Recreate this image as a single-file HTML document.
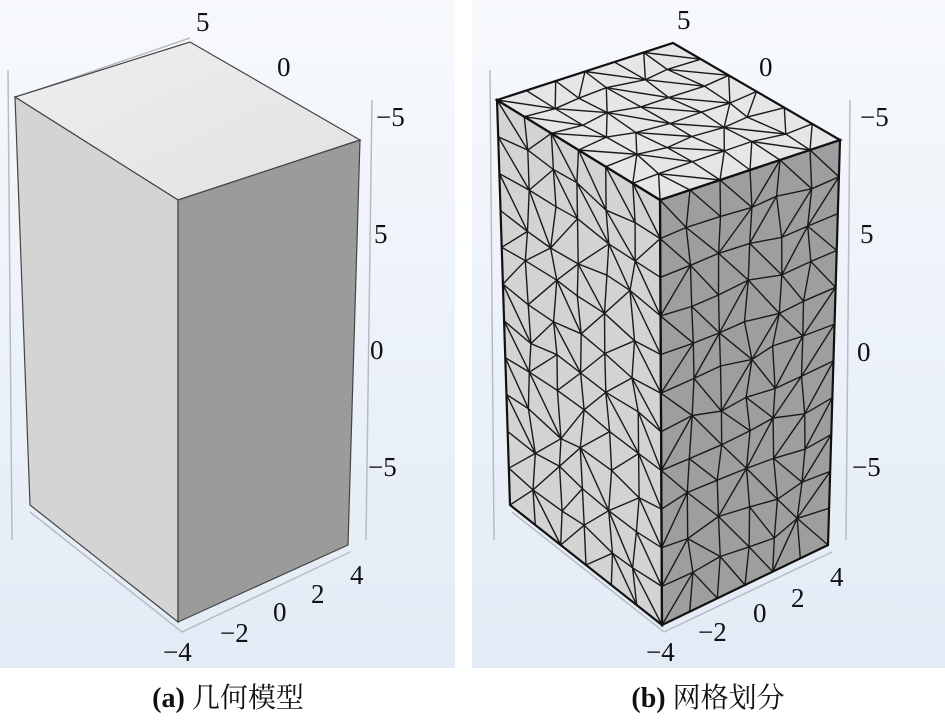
<!DOCTYPE html>
<html><head><meta charset="utf-8"><style>
html,body{margin:0;padding:0;background:#fff;width:945px;height:724px;overflow:hidden}
svg{display:block}
text{font-family:"Liberation Serif","Noto Serif CJK SC",serif;fill:#111}
</style></head><body>
<svg id="s" width="945" height="724" viewBox="0 0 945 724" xmlns="http://www.w3.org/2000/svg">
<defs>
<linearGradient id="bg" x1="0" y1="0" x2="0" y2="1">
<stop offset="0" stop-color="#f7f9fc"/><stop offset="1" stop-color="#e2ebf6"/></linearGradient>
<linearGradient id="tp" x1="0" y1="0" x2="1" y2="1">
<stop offset="0" stop-color="#eeeeee"/><stop offset="1" stop-color="#e2e2e2"/></linearGradient>
</defs>
<rect x="0" y="0" width="455" height="668" fill="url(#bg)"/>
<rect x="472" y="0" width="473" height="668" fill="url(#bg)"/>
<g stroke="#b8bcc2" stroke-width="1.5" fill="none">
<polyline points="8,70 12,540"/>
<polyline points="372,100 366,540"/>
<polyline points="30,512 182,632 350,552"/>
<polyline points="20,96 190,38"/>
<polyline points="490,70 494,540"/>
<polyline points="850,100 846,540"/>
<polyline points="512,512 664,632 832,552"/>
</g>
<polygon points="15,97 190,42 360,140 178,200" fill="url(#tp)" stroke="#444" stroke-width="1.2"/>
<polygon points="15,97 178,200 178,622 30,505" fill="#d4d4d4" stroke="#444" stroke-width="1.2"/>
<polygon points="178,200 360,140 348,545 178,622" fill="#9b9b9b" stroke="#444" stroke-width="1.2"/>
<polygon points="497,100 673,43 840,140 660,200" fill="#e6e6e6"/>
<polygon points="497,100 660,200 662,625 510,505" fill="#d3d3d3"/>
<polygon points="660,200 840,140 828,545 662,625" fill="#9e9e9e"/>
<g id="mesh" stroke="#1a1a1a" stroke-width="1.4" fill="none"></g>
<g stroke="#111" stroke-width="2.2" fill="none">
<polygon points="497,100 673,43 840,140 660,200"/>
<polygon points="497,100 660,200 662,625 510,505"/>
<polygon points="660,200 840,140 828,545 662,625"/>
</g>
<g font-size="27">
<text x="196" y="31">5</text><text x="277" y="76">0</text><text x="376" y="126">−5</text>
<text x="374" y="243">5</text><text x="370" y="359">0</text><text x="368" y="476">−5</text>
<text x="350" y="584">4</text><text x="311" y="603">2</text><text x="273" y="621">0</text>
<text x="220" y="642">−2</text><text x="163" y="661">−4</text>
<text x="677" y="29">5</text><text x="759" y="76">0</text><text x="860" y="126">−5</text>
<text x="860" y="243">5</text><text x="857" y="361">0</text><text x="852" y="476">−5</text>
<text x="830" y="586">4</text><text x="791" y="607">2</text><text x="753" y="622">0</text>
<text x="698" y="641">−2</text><text x="646" y="661">−4</text>
</g>
<text x="228" y="707" font-size="28" text-anchor="middle"><tspan font-weight="bold">(a)</tspan> 几何模型</text>
<text x="708" y="707" font-size="28" text-anchor="middle"><tspan font-weight="bold">(b)</tspan> 网格划分</text>
</svg>
<script>
(function(){
var g=document.getElementById('mesh');var out='';
function rnd(i,j,k){var x=Math.sin(i*127.1+j*311.7+k*74.7)*43758.5453;return x-Math.floor(x)-0.5;}
function face(A,B,C,D,nu,nv,k){
 var P=[];
 for(var i=0;i<=nu;i++){P[i]=[];for(var j=0;j<=nv;j++){
  var u=i/nu,v=j/nv;
  if(i>0&&i<nu&&j>0&&j<nv){u+=rnd(i,j,k)*0.3/nu;v+=rnd(j,i,k+3)*0.3/nv;}
  var x=(1-u)*(1-v)*A[0]+u*(1-v)*B[0]+u*v*C[0]+(1-u)*v*D[0];
  var y=(1-u)*(1-v)*A[1]+u*(1-v)*B[1]+u*v*C[1]+(1-u)*v*D[1];
  P[i][j]=[x,y];}}
 function L(p,q){out+='<line x1="'+p[0].toFixed(1)+'" y1="'+p[1].toFixed(1)+'" x2="'+q[0].toFixed(1)+'" y2="'+q[1].toFixed(1)+'"/>';}
 for(var i=0;i<=nu;i++)for(var j=0;j<=nv;j++){
  if(i<nu)L(P[i][j],P[i+1][j]);
  if(j<nv)L(P[i][j],P[i][j+1]);
  if(i<nu&&j<nv){ if(rnd(i,j,k+7)>0) L(P[i][j],P[i+1][j+1]); else L(P[i+1][j],P[i][j+1]); }
 }
}
face([497,100],[673,43],[840,140],[660,200],6,6,1);
face([497,100],[660,200],[662,625],[510,505],6,11,2);
face([660,200],[840,140],[828,545],[662,625],6,11,3);
g.innerHTML=out;
})();
</script>
</body></html>
